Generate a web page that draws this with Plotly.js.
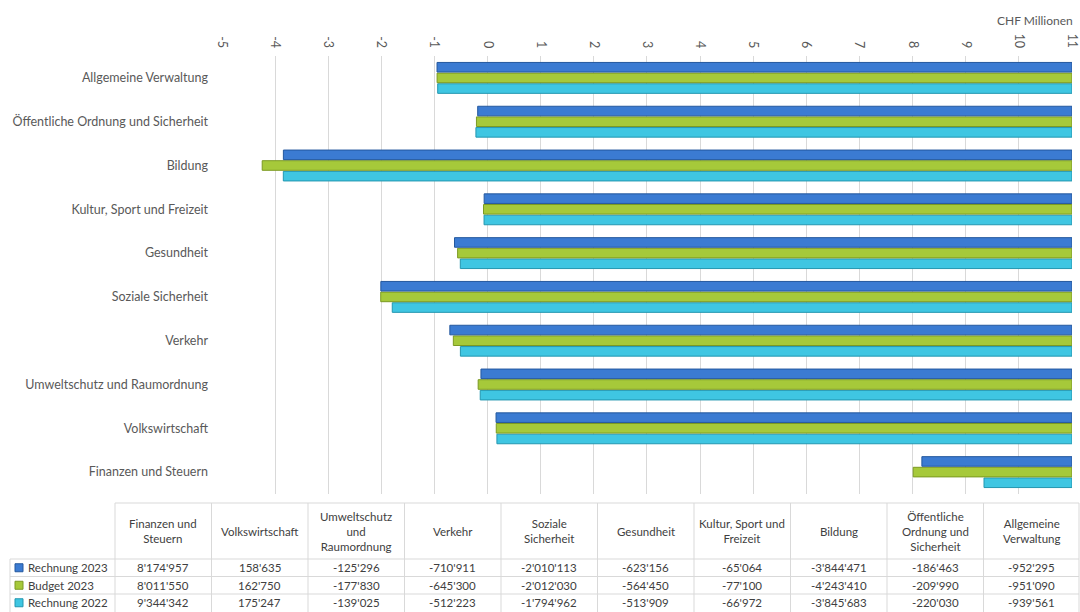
<!DOCTYPE html>
<html>
<head>
<meta charset="utf-8">
<script src="https://cdn.plot.ly/plotly-3.0.1.min.js"></script>
<style>html,body{margin:0;padding:0;background:#fff;}#chart{width:1080px;height:612px;}</style>
</head>
<body>
<div id="chart"></div>
<script>
// ---- data (order as in the data table) ----
const categories = ["Finanzen und Steuern","Volkswirtschaft","Umweltschutz und Raumordnung","Verkehr","Soziale Sicherheit","Gesundheit","Kultur, Sport und Freizeit","Bildung","Öffentliche Ordnung und Sicherheit","Allgemeine Verwaltung"];
const headerLabels = ["Finanzen und<br>Steuern","Volkswirtschaft","Umweltschutz<br>und<br>Raumordnung","Verkehr","Soziale<br>Sicherheit","Gesundheit","Kultur, Sport und<br>Freizeit","Bildung","Öffentliche<br>Ordnung und<br>Sicherheit","Allgemeine<br>Verwaltung"];
const rechnung2023 = [8174957,158635,-125296,-710911,-2010113,-623156,-65064,-3844471,-186463,-952295];
const budget2023   = [8011550,162750,-177830,-645300,-2012030,-564450,-77100,-4243410,-209990,-951090];
const rechnung2022 = [9344342,175247,-139025,-512223,-1794962,-513909,-66972,-3845683,-220030,-939561];
const seriesNames = ["Rechnung 2023","Budget 2023","Rechnung 2022"];
const xTicks = [-5,-4,-3,-2,-1,0,1,2,3,4,5,6,7,8,9,10,11];
const axisMin = -5, axisMax = 11;
const unitLabel = "CHF Millionen";

const colors = ["#3b7bd2","#a6c93a","#3fc6e2"];
const edges  = ["#24589e","#7c9a22","#2397b0"];
const allSeries = [rechnung2023, budget2023, rechnung2022];

// ---- pixel helpers for layout ----
const L=222, R=1072, T=56, B=494;
const W=R-L, H=B-T;
const px = x => (x-L)/W;
const py = y => (B-y)/H;

function fmt(v){
  const s = Math.abs(Math.round(v)).toString().replace(/\B(?=(\d{3})+(?!\d))/g,"'");
  return (v<0?"-":"")+s;
}

// bars: Excel axis crosses at maximum, so bars span from value to axis max
const traces = [];
for (let k=2;k>=0;k--){
  const vals = allSeries[k].map(v=>v/1e6);
  traces.push({
    type:"bar", orientation:"h", name:seriesNames[k],
    y:categories, base:vals, x:vals.map(v=>axisMax-v),
    marker:{color:colors[k], line:{color:edges[k], width:1}},
    hoverinfo:"name+text", text:allSeries[k].map(fmt), textposition:"none"
  });
}

// ---- data table drawn under the plot ----
const shapes=[], annotations=[];
const lineCol="#d9d9d9";
const colL=115, colW=96.5, nCol=categories.length;
const hdrTop=503, hdrBot=559, rowH=17.5;
const tableFont={family:"Lato, 'Open Sans', sans-serif", size:11.5, color:"#404040"};
function hline(x0,x1,y){shapes.push({type:"line",xref:"paper",yref:"paper",x0:px(x0),x1:px(x1),y0:py(y),y1:py(y),line:{color:lineCol,width:1}});}
function vline(x,y0,y1){shapes.push({type:"line",xref:"paper",yref:"paper",x0:px(x),x1:px(x),y0:py(y0),y1:py(y1),line:{color:lineCol,width:1}});}
hline(colL,1079,hdrTop);
for(let r=0;r<3;r++) hline(10,1079,hdrBot+r*rowH);
vline(10,hdrBot,614);
for(let c=0;c<=nCol;c++) vline(Math.min(colL+c*colW,1079),hdrTop,614);
for(let c=0;c<nCol;c++){
  const cx=colL+(c+0.5)*colW;
  annotations.push({xref:"paper",yref:"paper",x:px(cx),y:py((hdrTop+hdrBot)/2),text:headerLabels[c],showarrow:false,
    xanchor:"center",yanchor:"middle",align:"center",font:tableFont});
  for(let r=0;r<3;r++){
    annotations.push({xref:"paper",yref:"paper",x:px(cx),y:py(hdrBot+(r+0.5)*rowH),text:fmt(allSeries[r][c]),showarrow:false,
      xanchor:"center",yanchor:"middle",font:tableFont});
  }
}
for(let r=0;r<3;r++){
  const cy=hdrBot+(r+0.5)*rowH;
  shapes.push({type:"rect",xref:"paper",yref:"paper",x0:px(15),x1:px(23),y0:py(cy+4),y1:py(cy-4),
    fillcolor:colors[r],line:{color:edges[r],width:1}});
  annotations.push({xref:"paper",yref:"paper",x:px(26),y:py(cy),text:seriesNames[r],showarrow:false,
    xanchor:"left",yanchor:"middle",font:tableFont});
}
annotations.push({xref:"paper",yref:"paper",x:px(1075),y:py(21),text:unitLabel,showarrow:false,
  xanchor:"right",yanchor:"middle",font:{family:"Lato, 'Open Sans', sans-serif",size:12,color:"#595959"}});

const layout={
  width:1080,height:612,
  margin:{l:L,r:1080-R,t:T,b:612-B,pad:0},
  paper_bgcolor:"#fff",plot_bgcolor:"#fff",
  showlegend:false,
  barmode:"group",bargap:0.27,bargroupgap:0.1,
  font:{family:"Lato, 'Open Sans', sans-serif",color:"#595959"},
  xaxis:{side:"top",range:[axisMin,axisMax+0.001],tickvals:xTicks,ticktext:xTicks.map(String),tickangle:90,
    ticklabeloverflow:"allow",ticklabelstandoff:5,
    showgrid:true,gridcolor:"#d9d9d9",gridwidth:1,zeroline:false,showline:false,ticks:"",
    tickfont:{size:12.5,color:"#595959"},fixedrange:true},
  yaxis:{type:"category",categoryorder:"array",categoryarray:categories,showgrid:false,zeroline:false,showline:false,
    ticks:"",ticklabelstandoff:13,tickfont:{size:12.5,color:"#595959"},fixedrange:true},
  shapes:shapes,annotations:annotations
};
Plotly.newPlot("chart",traces,layout,{displayModeBar:false,staticPlot:true});
</script>
</body>
</html>
